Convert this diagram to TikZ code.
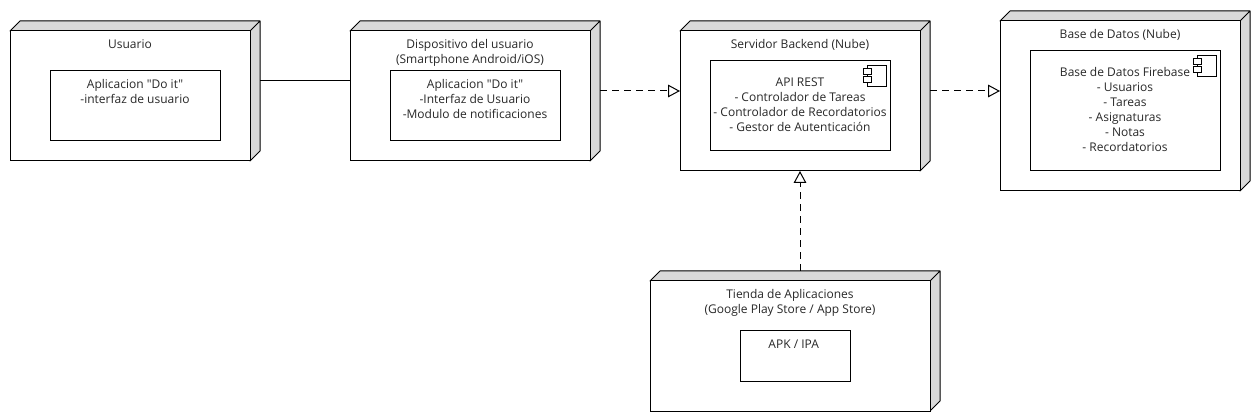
\documentclass[tikz,border=0pt]{standalone}
\usepackage{fontspec}
\setmainfont{Open Sans}[Ligatures=TeXOff]
\usetikzlibrary{arrows.meta,positioning,calc}
\definecolor{ink}{RGB}{40,40,40}
\definecolor{side}{RGB}{217,217,217}
\tikzset{
  nodebox/.style 2 args={draw=black,line width=0.75pt,fill=white,inner sep=0pt,outer sep=0pt,
                minimum width=#1*0.75pt,minimum height=#2*0.75pt,
                append after command={
                  \pgfextra{\draw[line width=0.75pt,fill=side,line join=round]
                    (\tikzlastnode.north west) -- ++(7.5pt,7.5pt) -- ([shift={(7.5pt,7.5pt)}]\tikzlastnode.north east)
                    -- ([shift={(7.5pt,7.5pt)}]\tikzlastnode.south east) -- (\tikzlastnode.south east)
                    -- (\tikzlastnode.north east) -- cycle
                    (\tikzlastnode.north east) -- ++(7.5pt,7.5pt);}}},
  inbox/.style 2 args={draw=black,line width=0.75pt,fill=white,inner sep=0pt,outer sep=0pt,
                minimum width=#1*0.75pt,minimum height=#2*0.75pt},
  txt/.style={font=\fontsize{9}{11.25}\selectfont,text=ink,align=center,inner sep=0pt,anchor=north},
  dep/.style={line width=0.75pt,dash pattern=on 5.25pt off 3.75pt,-{Triangle[open,fill=white,length=9pt,width=9.5pt]}},
  lnk/.style={line width=0.75pt},
}
\begin{document}
\begin{tikzpicture}[x=0.75pt,y=-0.75pt]
  \useasboundingbox[fill=white] (0,-1) rectangle (1260,419);
  % nodes
  \node[nodebox={240}{130}] (usr) at (130,95) {};
  \node[nodebox={240}{130}] (dev) at (470,95) {};
  \node[nodebox={240}{140}] (srv) at (800,100) {};
  \node[nodebox={240}{170}] (bdd) at (1120,105) {};
  \node[nodebox={280}{130}] (tda) at (790,345) {};
  % inner boxes
  \node[inbox={170}{70}] (usrapp) at (135,105) {};
  \node[inbox={170}{70}] (devapp) at (475,105) {};
  \node[inbox={180}{90}] (api) at (800,105) {};
  \node[inbox={190}{120}] (fire) at (1125,110) {};
  \node[inbox={110}{50}] (apk) at (795,355) {};
  % titles
  \node[txt,below=6pt of usr.north] (usrt) {Usuario};
  \node[txt,below=6pt of dev.north] (devt) {Dispositivo del usuario\\(Smartphone Android/iOS)};
  \node[txt,below=6pt of srv.north] (srvt) {Servidor Backend (Nube)};
  \node[txt,below=6pt of bdd.north] (bddt) {Base de Datos (Nube)};
  \node[txt,below=6pt of tda.north] (tdat) {Tienda de Aplicaciones\\(Google Play Store / App Store)};
  % texts of the inner boxes
  \node[txt,below=6.4pt of usrapp.north] (usrappt) {Aplicacion "Do it"\\-interfaz de usuario};
  \node[txt,below=6.4pt of devapp.north] (devappt) {Aplicacion "Do it"\\-Interfaz de Usuario\\-Modulo de notificaciones};
  \node[txt,below=12.6pt of api.north] (apit) {API REST\\- Controlador de Tareas\\- Controlador de Recordatorios\\- Gestor de Autenticación};
  \node[txt,below=12.2pt of fire.north] (firet) {Base de Datos Firebase\\- Usuarios\\- Tareas\\- Asignaturas\\- Notas\\- Recordatorios};
  \node[txt,below=6.4pt of apk.north,xshift=-1pt] (apkt) {APK / IPA};
  % component icons
  \foreach \n in {api,fire} {
    \draw[line width=0.75pt,fill=white] ([shift={(-17.25pt,-3.75pt)}]\n.north east) rectangle ++(14.25pt,-15.75pt);
    \draw[line width=0.75pt,fill=white] ([shift={(-20.25pt,-6pt)}]\n.north east) rectangle ++(6pt,-4.5pt);
    \draw[line width=0.75pt,fill=white] ([shift={(-20.25pt,-12pt)}]\n.north east) rectangle ++(6pt,-4.5pt);
  }
  % connectors
  \draw[lnk] ($(usr.north east)+(7.5pt,-37.5pt)$) -- ($(dev.north west)+(0,-37.5pt)$);
  \draw[dep] ($(dev.north east)+(7.5pt,-45pt)$) -- ($(srv.north west)+(0,-45pt)$);
  \draw[dep] ($(srv.north east)+(7.5pt,-45pt)$) -- ($(bdd.north west)+(0,-52.5pt)$);
  \draw[dep] ($(tda.north)+(7.5pt,7.5pt)$) -- (srv.south);
\end{tikzpicture}
\end{document}
